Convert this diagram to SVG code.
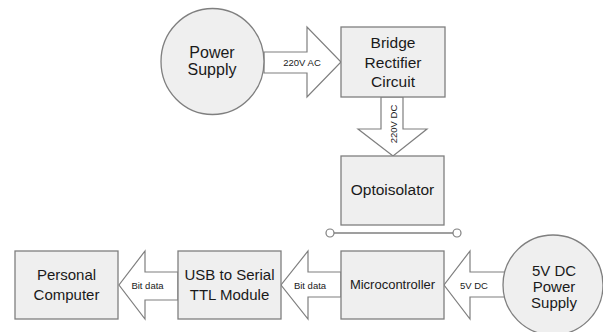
<svg xmlns="http://www.w3.org/2000/svg" width="603" height="332" viewBox="0 0 603 332">
<style>
.box{fill:#efefef;stroke:#7f7f7f;stroke-width:1.3}
.arr{fill:#ffffff;stroke:#7f7f7f;stroke-width:1.2}
.t{font-family:"Liberation Sans",Arial,sans-serif;font-size:15.5px;fill:#1a1a1a;text-anchor:middle}
.t16{font-size:16px}
.t15{font-size:15px}
.t13{font-size:13px}
.s{font-family:"Liberation Sans",Arial,sans-serif;font-size:9.5px;fill:#1a1a1a;text-anchor:middle}
.ln{stroke:#7f7f7f;stroke-width:1.3;fill:none}
.dot{fill:#ffffff;stroke:#7f7f7f;stroke-width:1.2}
</style>
<rect width="603" height="332" fill="#ffffff"/>
<g id="connectors">
  <g id="arrow-220vac">
    <path class="arr" d="M264,52 H307 V27 L341,62 L307,97 V73 H264 Z"/>
    <text class="s" x="302" y="65.5">220V AC</text>
  </g>
  <g id="arrow-220vdc">
    <path class="arr" d="M381,97 V129 H358 L393,156 L427,129 H403 V97 Z"/>
    <text class="s" transform="translate(396.5,124) rotate(-90)">220V DC</text>
  </g>
  <g id="isolation-line">
    <line class="ln" x1="334" y1="233" x2="453" y2="233"/>
    <circle class="dot" cx="330" cy="233" r="4"/>
    <circle class="dot" cx="457" cy="233" r="4"/>
  </g>
  <g id="arrow-5vdc">
    <path class="arr" d="M504,272 H470 V251 L444,285 L470,319 V297 H504"/>
    <text class="s" x="474" y="288.5">5V DC</text>
  </g>
  <g id="arrow-bit-mc">
    <path class="arr" d="M341,272 H308 V251 L281,285 L308,319 V297 H341 Z"/>
    <text class="s" x="310" y="288.5">Bit data</text>
  </g>
  <g id="arrow-bit-usb">
    <path class="arr" d="M178,272 H145 V251 L119,285 L145,319 V300 H178 Z"/>
    <text class="s" x="147.5" y="288.5">Bit data</text>
  </g>
</g>
<g id="power-supply">
  <ellipse class="box" cx="212.5" cy="61.5" rx="51.5" ry="53"/>
  <text class="t t16" x="212" y="57.5">Power</text>
  <text class="t t16" x="212" y="75">Supply</text>
</g>
<g id="bridge-rectifier">
  <rect class="box" x="341" y="27" width="104" height="70"/>
  <text class="t" x="393" y="48">Bridge</text>
  <text class="t" x="393" y="67.5">Rectifier</text>
  <text class="t" x="393" y="87">Circuit</text>
</g>
<g id="optoisolator">
  <rect class="box" x="341" y="156" width="103" height="69"/>
  <text class="t" x="392.5" y="195">Optoisolator</text>
</g>
<g id="microcontroller">
  <rect class="box" x="341" y="251" width="103" height="68"/>
  <text class="t t13" x="392.5" y="289">Microcontroller</text>
</g>
<g id="usb-ttl">
  <rect class="box" x="178" y="251" width="103" height="68"/>
  <text class="t t15" x="229.5" y="280">USB to Serial</text>
  <text class="t t15" x="229.5" y="300">TTL Module</text>
</g>
<g id="personal-computer">
  <rect class="box" x="15" y="251" width="103" height="68"/>
  <text class="t t15" x="66.5" y="280">Personal</text>
  <text class="t t15" x="66.5" y="300">Computer</text>
</g>
<g id="dc-supply">
  <circle class="box" cx="553" cy="285" r="50"/>
  <text class="t t15" x="554" y="275.5">5V DC</text>
  <text class="t t15" x="554" y="291.5">Power</text>
  <text class="t t15" x="554" y="307.5">Supply</text>
</g>
</svg>
